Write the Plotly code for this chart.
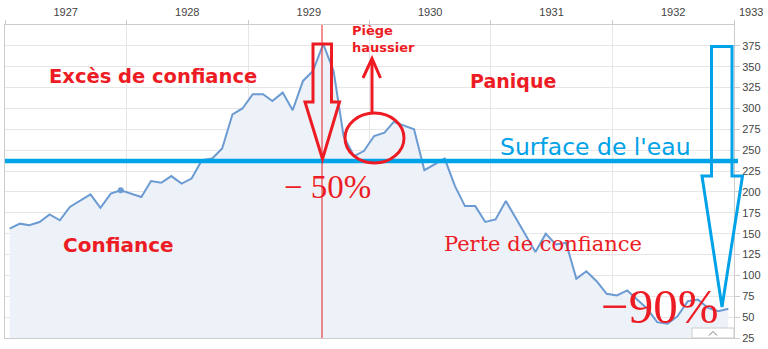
import plotly.graph_objects as go

# ---- data (monthly, Jan 1927 - Dec 1932) ----
years = [1927]*12 + [1928]*12 + [1929]*12 + [1930]*12 + [1931]*12 + [1932]*12
months = list(range(1, 13)) * 6
values = [156, 162, 160, 164, 173, 166, 182, 189, 197, 181, 198, 202,
          198, 194, 213, 211, 219, 210, 216, 238, 240, 252, 293, 300,
          317, 317, 309, 319, 298, 333, 345, 377, 345, 267, 243, 249,
          267, 271, 284, 279, 275, 226, 233, 240, 207, 183, 183, 164,
          167, 189, 170, 149, 128, 150, 137, 139, 96, 105, 93, 78,
          76, 82, 71, 60, 44, 42, 51, 69, 71, 61, 57, 60]
dates = [f"{y}-{m:02d}-15" for y, m in zip(years, months)]
y_ticks = list(range(25, 400, 25))
highlight_idx = 11  # hover dot (Dec 1927)

RED = "#ED1C24"
BLUE = "#00A2E8"

W, H = 768, 349
L, R, T, B = 5, 34, 25, 11
PW, PH = W - L - R, H - T - B


def px(x, y):
    """pixel -> paper coords (for overlay drawings)"""
    return (x - L) / PW, (H - B - y) / PH


def path(points, close=True):
    s = ""
    for i, (x, y) in enumerate(points):
        a, b = px(x, y)
        s += ("M" if i == 0 else "L") + f"{a:.5f},{b:.5f} "
    return s + ("Z" if close else "")


fig = go.Figure()
fig.add_trace(go.Scatter(
    x=dates, y=values, mode="lines",
    line=dict(color="#6b9bd2", width=2),
    fill="tozeroy", fillcolor="#edf2f8", hoverinfo="skip"))
fig.add_trace(go.Scatter(
    x=[dates[highlight_idx]], y=[values[highlight_idx]], mode="markers",
    marker=dict(color="#6b9bd2", size=6), hoverinfo="skip"))

shapes = []
# thin red vertical line
x0, y0 = px(322, 25); _, y1 = px(322, 338)
shapes.append(dict(type="line", xref="paper", yref="paper", x0=x0, x1=x0, y0=y0, y1=y1,
                   line=dict(color=RED, width=1)))
# blue water line
a0, b0 = px(5, 161); a1, _ = px(738, 161)
shapes.append(dict(type="line", xref="paper", yref="paper", x0=a0, x1=a1, y0=b0, y1=b0,
                   line=dict(color=BLUE, width=4.5)))
# red down arrow
shapes.append(dict(type="path", xref="paper", yref="paper",
                   path=path([(313, 44), (331.5, 44), (331.5, 102), (339.5, 102), (322.5, 159),
                              (305, 102), (313, 102)]),
                   line=dict(color=RED, width=3)))
# red circle
c0x, c0y = px(345, 163); c1x, c1y = px(404, 113)
shapes.append(dict(type="circle", xref="paper", yref="paper", x0=c0x, x1=c1x, y0=c0y, y1=c1y,
                   line=dict(color=RED, width=3)))
# red up arrow
shapes.append(dict(type="path", xref="paper", yref="paper",
                   path=path([(372, 113), (372, 59)], close=False), line=dict(color=RED, width=3)))
shapes.append(dict(type="path", xref="paper", yref="paper",
                   path=path([(363, 78), (372, 58.5), (380.5, 78)], close=False),
                   line=dict(color=RED, width=3)))
# blue down arrow
shapes.append(dict(type="path", xref="paper", yref="paper",
                   path=path([(711.5, 46.5), (732, 46.5), (732, 176), (742.5, 176), (722, 307),
                              (702, 176), (711.5, 176)]),
                   line=dict(color=BLUE, width=3)))
# small scroll button with chevron
bx0, by0 = px(692, 338); bx1, by1 = px(734, 328)
shapes.append(dict(type="rect", xref="paper", yref="paper", x0=bx0, x1=bx1, y0=by0, y1=by1,
                   fillcolor="white", line=dict(color="#cccccc", width=1)))
shapes.append(dict(type="path", xref="paper", yref="paper",
                   path=path([(709, 335.5), (713, 331.5), (717, 335.5)], close=False),
                   line=dict(color="#777777", width=1)))

ann = []


def text(t, x, y, size, color, family, xanchor="center", bold=False):
    a, b = px(x, y)
    ann.append(dict(text=(f"<b>{t}</b>" if bold else t), x=a, y=b, xref="paper", yref="paper",
                    xanchor=xanchor, yanchor="middle", showarrow=False,
                    font=dict(size=size, color=color, family=family)))


SANS = "DejaVu Sans"
text("Excès de confiance", 152.5, 76, 19.5, RED, SANS, bold=True)
text("Panique", 513, 81, 19, RED, SANS, bold=True)
text("Confiance", 118, 245, 20, RED, SANS, bold=True)
text("Perte de confiance", 542.5, 244, 21, RED, "DejaVu Serif")
text("Surface de l'eau", 595, 147, 23.5, BLUE, SANS)
text("− 50%", 327, 187, 33, RED, "Liberation Serif")
text("−90%", 659, 306, 49, RED, "Liberation Serif")
a, b = px(350, 39)
ann.append(dict(text="<b>Piège<br>haussier</b>", x=a, y=b, xref="paper", yref="paper",
                xanchor="left", yanchor="middle", align="left", showarrow=False,
                font=dict(size=13, color=RED, family=SANS)))
text("1933", 751, 12, 11, "#444444", "Liberation Sans")

fig.update_layout(
    width=W, height=H, margin=dict(l=L, r=R, t=T, b=B),
    paper_bgcolor="white", plot_bgcolor="white", showlegend=False,
    shapes=shapes, annotations=ann,
    xaxis=dict(type="date", side="top", range=["1927-01-01", "1933-01-01"],
               tick0="1927-01-01", dtick="M12", tickformat="%Y", ticklabelmode="period",
               ticks="outside", ticklen=4, tickcolor="#cccccc",
               showgrid=True, gridcolor="#e6e6e6", gridwidth=1,
               showline=True, linecolor="#cccccc", mirror=True, zeroline=False,
               tickfont=dict(size=11, color="#444444", family="Liberation Sans")),
    yaxis=dict(side="right", range=[25, 400], tickvals=y_ticks,
               ticks="outside", ticklen=5, tickcolor="#cccccc",
               showgrid=True, gridcolor="#e6e6e6", gridwidth=1,
               showline=True, linecolor="#cccccc", mirror=True, zeroline=False,
               tickfont=dict(size=11, color="#444444", family="Liberation Sans")),
)

fig.write_html("out.html")
